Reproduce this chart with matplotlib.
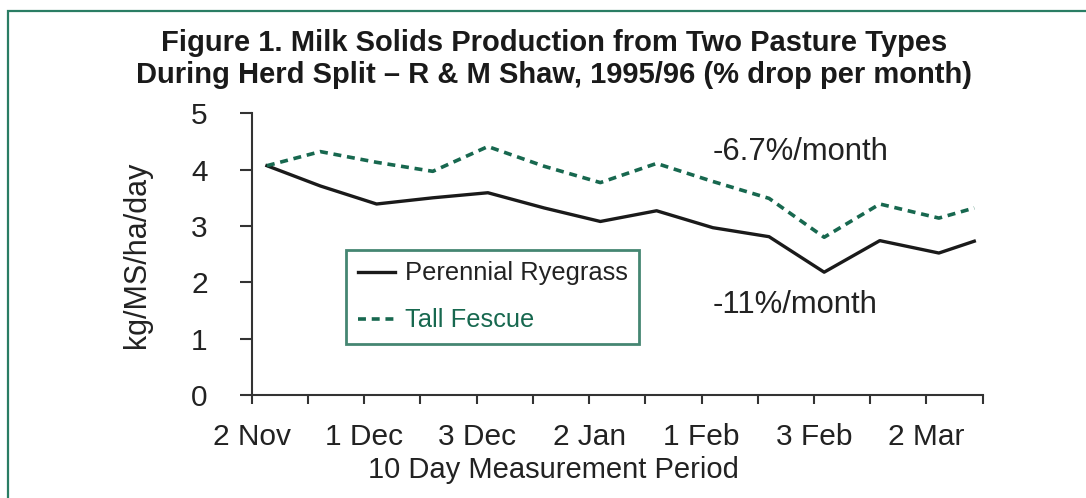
import matplotlib.pyplot as plt
from matplotlib.patches import Rectangle

plt.rcParams['font.family'] = ['Liberation Sans', 'DejaVu Sans']

GREEN = '#17684f'
FRAME_GREEN = '#2a7d64'

# measurement periods (position along the 10-day axis) and kg MS/ha/day
period = [0.27, 1.22, 2.22, 3.22, 4.2, 5.2, 6.2, 7.2, 8.2, 9.2, 10.18, 11.17, 12.22, 12.85]
ryegrass = [4.07, 3.71, 3.39, 3.50, 3.59, 3.32, 3.08, 3.27, 2.97, 2.81, 2.18, 2.74, 2.52, 2.73]
fescue = [4.07, 4.32, 4.13, 3.97, 4.41, 4.06, 3.77, 4.11, 3.79, 3.49, 2.80, 3.39, 3.14, 3.32]

tick_pos = list(range(14))
tick_labels = ["2 Nov", "", "1 Dec", "", "3 Dec", "", "2 Jan", "", "1 Feb", "", "3 Feb", "", "2 Mar", ""]
y_ticks = [0, 1, 2, 3, 4, 5]

fig = plt.figure(figsize=(10.86, 4.98), dpi=100)
ax = fig.add_axes([0.2318, 0.2068, 0.6731, 0.5657])

# green frame round the whole figure (runs off right and bottom)
fig.patches.append(Rectangle((8 / 1086, -0.1), 1.2, 1 - 11 / 498 + 0.1, transform=fig.transFigure,
                             fill=False, edgecolor=FRAME_GREEN, lw=1.6))

ax.plot(period, ryegrass, color='#1a1a1a', lw=2.4, label='Perennial Ryegrass')
ax.plot(period, fescue, color=GREEN, lw=2.6, dashes=(2.2, 1.6), label='Tall Fescue')

ax.set_xlim(0, 13)
ax.set_ylim(0, 5)
ax.set_xticks(tick_pos)
ax.set_xticklabels(tick_labels)
ax.set_yticks(y_ticks)

for s in ['top', 'right']:
    ax.spines[s].set_visible(False)
for s in ['left', 'bottom']:
    ax.spines[s].set_linewidth(1.5)
    ax.spines[s].set_color('#333333')
ax.tick_params(axis='y', length=8.6, width=1.5, color='#333333', labelsize=21.5, pad=23, labelcolor='#222222')
ax.tick_params(axis='x', length=6.5, width=1.5, color='#333333', labelsize=21.5, pad=14, labelcolor='#222222')

leg = ax.legend(loc='center', bbox_to_anchor=(0.3295, 0.348), fontsize=18.4, frameon=True,
                fancybox=False, handlelength=1.45, handletextpad=0.4, labelspacing=0.9,
                borderpad=0.45, borderaxespad=0)
leg.get_frame().set_edgecolor(GREEN)
leg.get_frame().set_linewidth(2)
leg.get_texts()[0].set_color('#222222')
leg.get_texts()[1].set_color(GREEN)

ax.text(8.2, 4.32, "-6.7%/month", fontsize=22.3, ha='left', va='center', color='#222222')
ax.text(8.2, 1.6, "-11%/month", fontsize=22.3, ha='left', va='center', color='#222222')

fig.text(0.51, 0.8815, "Figure 1. Milk Solids Production from Two Pasture Types\n"
         "During Herd Split \u2013 R & M Shaw, 1995/96 (% drop per month)",
         ha='center', va='center', fontsize=21, fontweight='bold', linespacing=1.17, color='#1a1a1a')
fig.text(137 / 1086, 1 - 255 / 498, "kg/MS/ha/day", rotation=90, ha='center', va='center',
         fontsize=22, color='#222222')
fig.text(553 / 1086, 1 - 470 / 498, "10 Day Measurement Period", ha='center', va='center',
         fontsize=21, color='#222222')

fig.savefig('out.png', dpi=100)
